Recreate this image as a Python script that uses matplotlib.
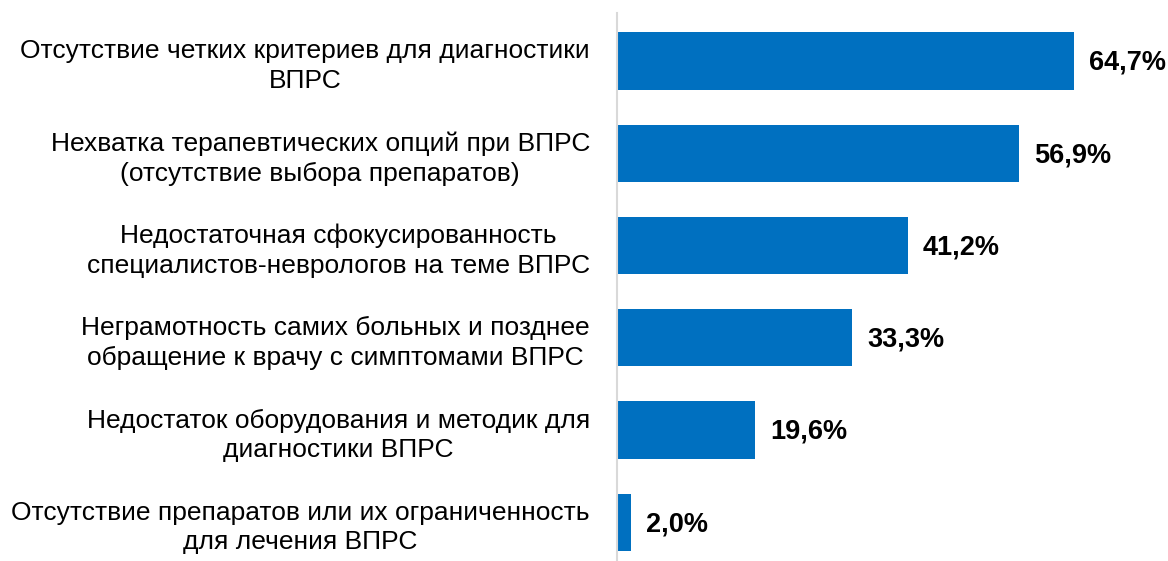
import matplotlib
matplotlib.use("Agg")
import matplotlib.pyplot as plt

categories = [
    "Отсутствие четких критериев для диагностики\nВПРС",
    "Нехватка терапевтических опций при ВПРС\n(отсутствие выбора препаратов)",
    "Недостаточная сфокусированность\nспециалистов-неврологов на теме ВПРС",
    "Неграмотность самих больных и позднее\nобращение к врачу с симптомами ВПРС",
    "Недостаток оборудования и методик для\nдиагностики ВПРС",
    "Отсутствие препаратов или их ограниченность\nдля лечения ВПРС",
]
values = [64.7, 56.9, 41.2, 33.3, 19.6, 2.0]
value_labels = ["64,7%", "56,9%", "41,2%", "33,3%", "19,6%", "2,0%"]

plt.rcParams["font.family"] = ["Liberation Sans", "DejaVu Sans"]

fig = plt.figure(figsize=(11.68, 5.61), dpi=100)
ax = fig.add_axes([617 / 1168, 0, 1 - 617 / 1168, 1 - 13 / 561])

y = list(range(len(values)))
ax.barh(y, values, height=0.62, color="#0070C0")
for yi, v, lab in zip(y, values, value_labels):
    ax.text(v + 2.1, yi + 0.02, lab, va="center", ha="left",
            fontsize=19.5, fontweight="bold", color="black")

ax.set_xlim(0, 78)
ax.set_ylim(5.42, -0.52)
ax.set_yticks(y)
ax.set_yticklabels(categories, fontsize=19, linespacing=1.3)
for t in ax.get_yticklabels():
    t.set_multialignment("center")
ax.tick_params(axis="y", length=0, pad=19.5)
ax.set_xticks([])
for s in ["top", "right", "bottom"]:
    ax.spines[s].set_visible(False)
ax.spines["left"].set_color("#D9D9D9")
ax.spines["left"].set_linewidth(1.5)

fig.savefig("out.png", dpi=100)
